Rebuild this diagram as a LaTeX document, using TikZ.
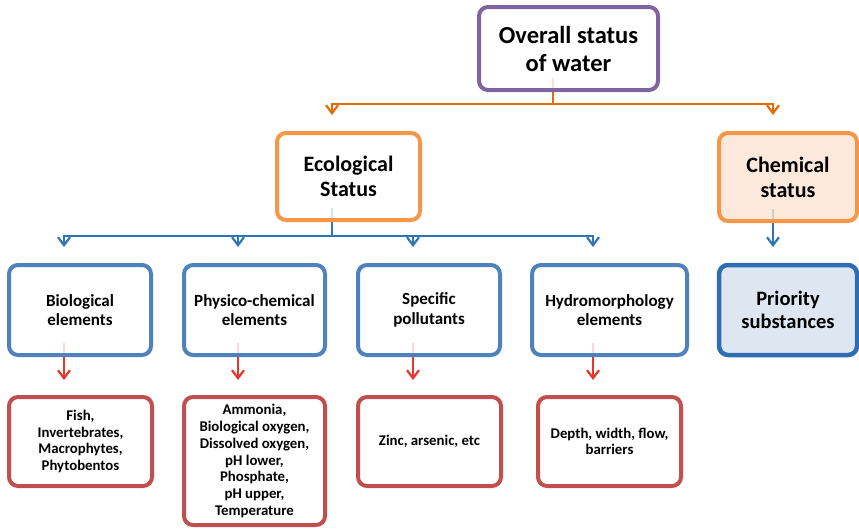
\documentclass[tikz,border=0pt]{standalone}
\usepackage{fontspec}
\setmainfont{Carlito}
\usetikzlibrary{arrows.meta,backgrounds}
\definecolor{purp}{HTML}{8064A2}
\definecolor{orbox}{HTML}{F79646}
\definecolor{orfill}{HTML}{FCE4D2}
\definecolor{orline}{HTML}{E36C09}
\definecolor{bbox}{HTML}{4F81BD}
\definecolor{bdark}{HTML}{2E6DB4}
\definecolor{bfill}{HTML}{D6E0EE}
\definecolor{bline}{HTML}{2E75B6}
\definecolor{rbox}{HTML}{C0504D}
\definecolor{rline}{HTML}{E8352B}
\newcommand\fontTop{\fontsize{24.5}{28}\selectfont\bfseries}
\newcommand\fontMid{\fontsize{22}{25}\selectfont\bfseries}
\newcommand\fontBlue{\fontsize{17}{19.5}\selectfont\bfseries}
\newcommand\fontPrio{\fontsize{20.5}{22.5}\selectfont\bfseries}
\newcommand\fontRed{\fontsize{14.8}{16.7}\selectfont\bfseries}
\begin{document}
\begin{tikzpicture}[x=1pt,y=-1pt,
  box/.style={rectangle, rounded corners=9pt, line width=4pt, fill=white,
    fill opacity=0.8, text opacity=1, draw opacity=1, align=center,
    inner sep=0pt, text=black},
  topbox/.style={box, draw=purp, minimum width=179pt, minimum height=83pt, font=\fontTop},
  midbox/.style={box, draw=orbox, minimum width=143pt, minimum height=87pt, font=\fontMid},
  bluebox/.style={box, draw=bbox, minimum height=90pt, font=\fontBlue},
  redbox/.style={box, draw=rbox, minimum width=143pt, minimum height=89pt, font=\fontRed},
  conn/.style={line width=2pt, -{Straight Barb[length=8pt,width=12pt,line width=2.2pt]}},
  oconn/.style={conn, draw=orline},
  bconn/.style={conn, draw=bline},
  rconn/.style={conn, draw=rline}
]
\useasboundingbox (0,0) rectangle (859,530);

% level 0
\node[topbox] (overall) at (568.5,48.5) {Overall status\\of water};
% level 1
\node[midbox] (eco) at (348.5,176.5) {Ecological\\Status};
\node[midbox, fill=orfill, minimum width=138pt, minimum height=88pt] (chem) at (788,177) {Chemical\\status};
% level 2
\node[bluebox, minimum width=142pt] (bio) at (80,310) {Biological\\elements};
\node[bluebox, minimum width=141pt] (phys) at (254.5,310) {Physico-chemical\\elements};
\node[bluebox, minimum width=142pt] (spec) at (429,310) {Specific\\pollutants};
\node[bluebox, minimum width=155pt] (hydro) at (609.5,310) {Hydromorphology\\elements};
\node[bluebox, draw=bdark, fill=bfill, line width=4.5pt, minimum width=138pt, font=\fontPrio] (prio) at (788,310) {Priority\\substances};
% level 3
\node[redbox] (fish) at (80.5,441.5) {Fish,\\Invertebrates,\\Macrophytes,\\Phytobentos};
\node[redbox, minimum width=141pt, minimum height=128pt] (ammo) at (254.5,461) {Ammonia,\\Biological oxygen,\\Dissolved oxygen,\\pH lower,\\Phosphate,\\pH upper,\\Temperature};
\node[redbox] (zinc) at (429.5,441.5) {Zinc, arsenic, etc};
\node[redbox] (depth) at (609.5,441.5) {Depth, width, flow,\\barriers};

% connector points
\coordinate (ojoin) at (553,104);
\coordinate (ecotip) at (332,115);
\coordinate (chemtip) at (773,115);
\coordinate (bjoin) at (332,236);
\coordinate (t1) at (64,247);
\coordinate (t2) at (238,247);
\coordinate (t3) at (413,247);
\coordinate (t4) at (593,247);
\coordinate (pritip) at (773,247);
\coordinate (r1) at (64,380);
\coordinate (r2) at (238,380);
\coordinate (r3) at (413,380);
\coordinate (r4) at (593,380);

\begin{scope}[on background layer]
  \draw[oconn] ([xshift=-15.5pt,yshift=14pt]overall.south) -- (ojoin) -| (ecotip);
  \draw[oconn] (ojoin) -| (chemtip);
  \draw[bconn] ([xshift=-16.5pt,yshift=14pt]eco.south) -- (bjoin) -| (t1);
  \draw[bconn] (bjoin) -| (t2);
  \draw[bconn] (bjoin) -| (t3);
  \draw[bconn] (bjoin) -| (t4);
  \draw[bconn] ([xshift=-15pt,yshift=14pt]chem.south) -- (pritip);
  \draw[rconn] ([xshift=-16pt,yshift=14pt]bio.south) -- (r1);
  \draw[rconn] ([xshift=-16.5pt,yshift=14pt]phys.south) -- (r2);
  \draw[rconn] ([xshift=-16pt,yshift=14pt]spec.south) -- (r3);
  \draw[rconn] ([xshift=-16.5pt,yshift=14pt]hydro.south) -- (r4);
\end{scope}
\end{tikzpicture}
\end{document}
